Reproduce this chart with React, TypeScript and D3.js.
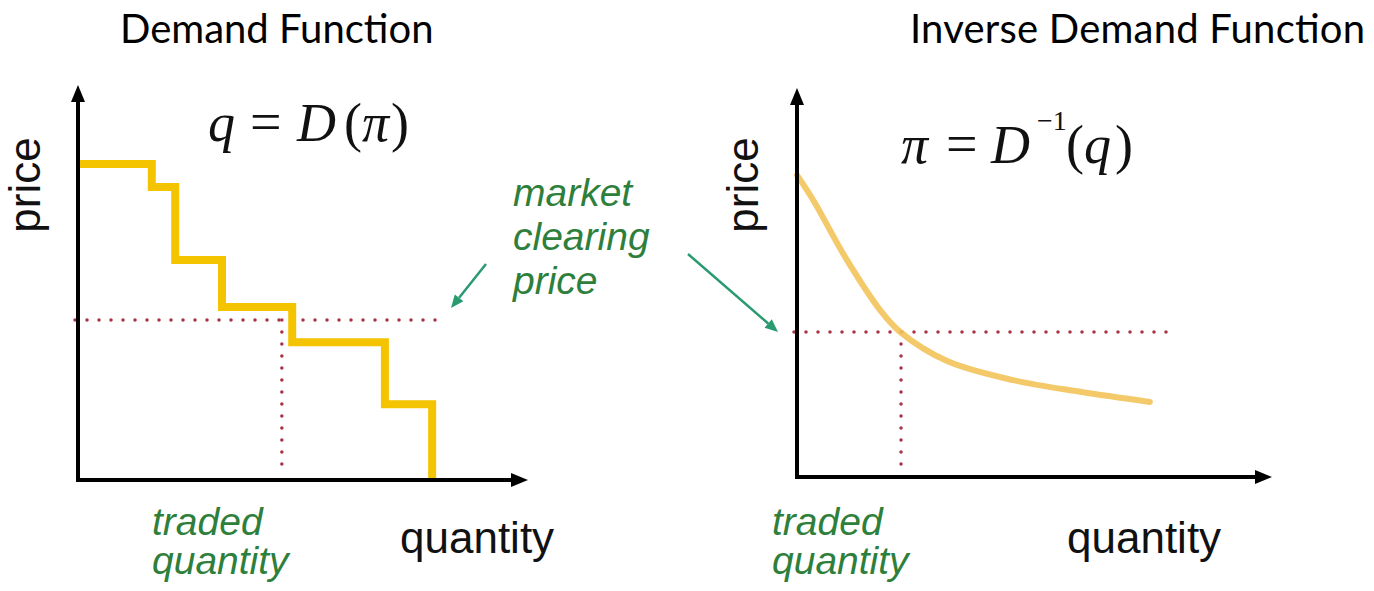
import React from "react";
import * as d3 from "d3";

// Left panel: stepped demand schedule (quantity at which each price block ends)
const stepQuantities = [0, 1.64, 2.16, 3.2, 4.76, 6.82, 7.87];
const stepPrices = [8.0, 7.42, 5.57, 4.38, 3.49, 1.92, 0];
const leftClearingPrice = 4.05;
const leftTradedQuantity = 4.53;
const leftGuideEnd = 8.2;

// Right panel: smooth inverse demand curve
const curveQuantities = [0, 0.34, 1.05, 1.75, 2.17, 3.16, 4.55, 5.96, 7.43];
const curvePrices = [7.76, 7.12, 5.58, 4.29, 3.73, 2.98, 2.49, 2.19, 1.93];
const rightClearingPrice = 3.73;
const rightTradedQuantity = 2.19;
const rightGuideEnd = 7.81;

const titles = ["Demand Function", "Inverse Demand Function"];
const axisLabels = ["price", "quantity"];
const annotationLines = ["market", "clearing", "price"];
const tradedLines = ["traded", "quantity"];

const W = 1374;
const H = 591;

const GREEN_TEXT = "#2f7f3c";
const GREEN_ARROW = "#2a9a70";
const DOT = "#a83448";
const SANS = "Liberation Sans, Arial, sans-serif";
const SERIF = "Liberation Serif, Times New Roman, serif";
const TITLE_FONT = "Lato, Open Sans, sans-serif";

function Axes({ x0, y0, xTip, yTip }: { x0: number; y0: number; xTip: number; yTip: number }) {
  return (
    <g>
      <line x1={x0} y1={y0 + 2} x2={x0} y2={yTip + 12} stroke="#000" strokeWidth={4} />
      <line x1={x0 - 2} y1={y0} x2={xTip - 12} y2={y0} stroke="#000" strokeWidth={4} />
      <path d={`M${x0},${yTip} L${x0 - 7},${yTip + 17} L${x0 + 7},${yTip + 17} Z`} fill="#000" />
      <path d={`M${xTip},${y0} L${xTip - 17},${y0 - 7} L${xTip - 17},${y0 + 7} Z`} fill="#000" />
    </g>
  );
}

function Arrow({ x1, y1, x2, y2 }: { x1: number; y1: number; x2: number; y2: number }) {
  const ang = Math.atan2(y2 - y1, x2 - x1);
  const L = 13;
  const w = 5.5;
  const bx = x2 - L * Math.cos(ang);
  const by = y2 - L * Math.sin(ang);
  const px = -Math.sin(ang) * w;
  const py = Math.cos(ang) * w;
  return (
    <g>
      <line x1={x1} y1={y1} x2={bx} y2={by} stroke={GREEN_ARROW} strokeWidth={2.5} />
      <path d={`M${x2},${y2} L${bx + px},${by + py} L${bx - px},${by - py} Z`} fill={GREEN_ARROW} />
    </g>
  );
}

export default function App() {
  // Left scales
  const xL = d3.scaleLinear().domain([0, 10]).range([78, 528]);
  const yL = d3.scaleLinear().domain([0, 10]).range([480, 85]);
  // Right scales
  const xR = d3.scaleLinear().domain([0, 10]).range([797, 1272]);
  const yR = d3.scaleLinear().domain([0, 10]).range([477, 88]);

  const stepData = stepQuantities.map((q, i) => [q, stepPrices[i]] as [number, number]);
  const stepPath = d3
    .line<[number, number]>()
    .x((d) => xL(d[0]))
    .y((d) => yL(d[1]))
    .curve(d3.curveStepAfter)(stepData) as string;

  const curveData = curveQuantities.map((q, i) => [q, curvePrices[i]] as [number, number]);
  const curvePath = d3
    .line<[number, number]>()
    .x((d) => xR(d[0]))
    .y((d) => yR(d[1]))
    .curve(d3.curveCatmullRom.alpha(0.5))(curveData) as string;

  const dotted = {
    stroke: DOT,
    strokeWidth: 3.5,
    strokeDasharray: "0 12",
    strokeLinecap: "round" as const,
    fill: "none",
  };

  return (
    <svg
      width={W}
      height={H}
      viewBox={`0 0 ${W} ${H}`}
      style={{ position: "absolute", left: 0, top: 0, background: "#fff" }}
    >
      <rect width={W} height={H} fill="#fff" />

      {/* titles */}
      <text x={120} y={43} fontFamily={TITLE_FONT} fontSize={40} fill="#000">
        {titles[0]}
      </text>
      <text x={910} y={43} fontFamily={TITLE_FONT} fontSize={40} fill="#000" textLength={455}>
        {titles[1]}
      </text>

      {/* ---------- left panel ---------- */}
      <line x1={xL(0) - 3} y1={yL(leftClearingPrice)} x2={xL(leftGuideEnd)} y2={yL(leftClearingPrice)} {...dotted} />
      <line x1={xL(leftTradedQuantity)} y1={yL(leftClearingPrice)} x2={xL(leftTradedQuantity)} y2={yL(0) - 4} {...dotted} />
      <path d={stepPath} fill="none" stroke="#f5c400" strokeWidth={8} strokeLinejoin="miter" />
      <Axes x0={78} y0={480} xTip={528} yTip={85} />

      <text y={141} fontFamily={SERIF} fontSize={54} fill="#111">
        <tspan x={208} fontStyle="italic">q</tspan>
        <tspan x={250} fontSize={56}>=</tspan>
        <tspan x={297} fontStyle="italic">D</tspan>
        <tspan x={344}>(</tspan>
        <tspan x={362} fontStyle="italic">π</tspan>
        <tspan x={391}>)</tspan>
      </text>

      <text
        transform="translate(40,185) rotate(-90)"
        textAnchor="middle"
        fontFamily={SANS}
        fontSize={44}
        fill="#111"
      >
        {axisLabels[0]}
      </text>
      <text x={400} y={553} fontFamily={SANS} fontSize={44} fill="#111">
        {axisLabels[1]}
      </text>
      {tradedLines.map((t, i) => (
        <text key={"tl" + i} x={152} y={535 + i * 39} fontFamily={SANS} fontStyle="italic" fontSize={39} fill={GREEN_TEXT}>
          {t}
        </text>
      ))}

      {/* shared annotation */}
      {annotationLines.map((t, i) => (
        <text key={"an" + i} x={513} y={206 + i * 44} fontFamily={SANS} fontStyle="italic" fontSize={39} fill={GREEN_TEXT}>
          {t}
        </text>
      ))}
      <Arrow x1={486} y1={264} x2={451} y2={308} />
      <Arrow x1={688} y1={254} x2={778} y2={332} />

      {/* ---------- right panel ---------- */}
      <line x1={xR(0) - 3} y1={yR(rightClearingPrice)} x2={xR(rightGuideEnd)} y2={yR(rightClearingPrice)} {...dotted} />
      <line x1={xR(rightTradedQuantity)} y1={yR(rightClearingPrice)} x2={xR(rightTradedQuantity)} y2={yR(0) - 4} {...dotted} />
      <path d={curvePath} fill="none" stroke="#f2c35a" strokeOpacity={0.9} strokeWidth={6} strokeLinecap="round" />
      <Axes x0={797} y0={477} xTip={1272} yTip={88} />

      <text y={163} fontFamily={SERIF} fontSize={54} fill="#111">
        <tspan x={901} fontStyle="italic">π</tspan>
        <tspan x={946} fontSize={56}>=</tspan>
        <tspan x={991} fontStyle="italic">D</tspan>
      </text>
      <text x={1037} y={130} fontFamily={SERIF} fontSize={28} fill="#111">
        −1
      </text>
      <text y={163} fontFamily={SERIF} fontSize={54} fill="#111">
        <tspan x={1066}>(</tspan>
        <tspan x={1084} fontStyle="italic">q</tspan>
        <tspan x={1115}>)</tspan>
      </text>

      <text
        transform="translate(758,185) rotate(-90)"
        textAnchor="middle"
        fontFamily={SANS}
        fontSize={44}
        fill="#111"
      >
        {axisLabels[0]}
      </text>
      <text x={1067} y={553} fontFamily={SANS} fontSize={44} fill="#111">
        {axisLabels[1]}
      </text>
      {tradedLines.map((t, i) => (
        <text key={"tr" + i} x={772} y={535 + i * 39} fontFamily={SANS} fontStyle="italic" fontSize={39} fill={GREEN_TEXT}>
          {t}
        </text>
      ))}
    </svg>
  );
}
